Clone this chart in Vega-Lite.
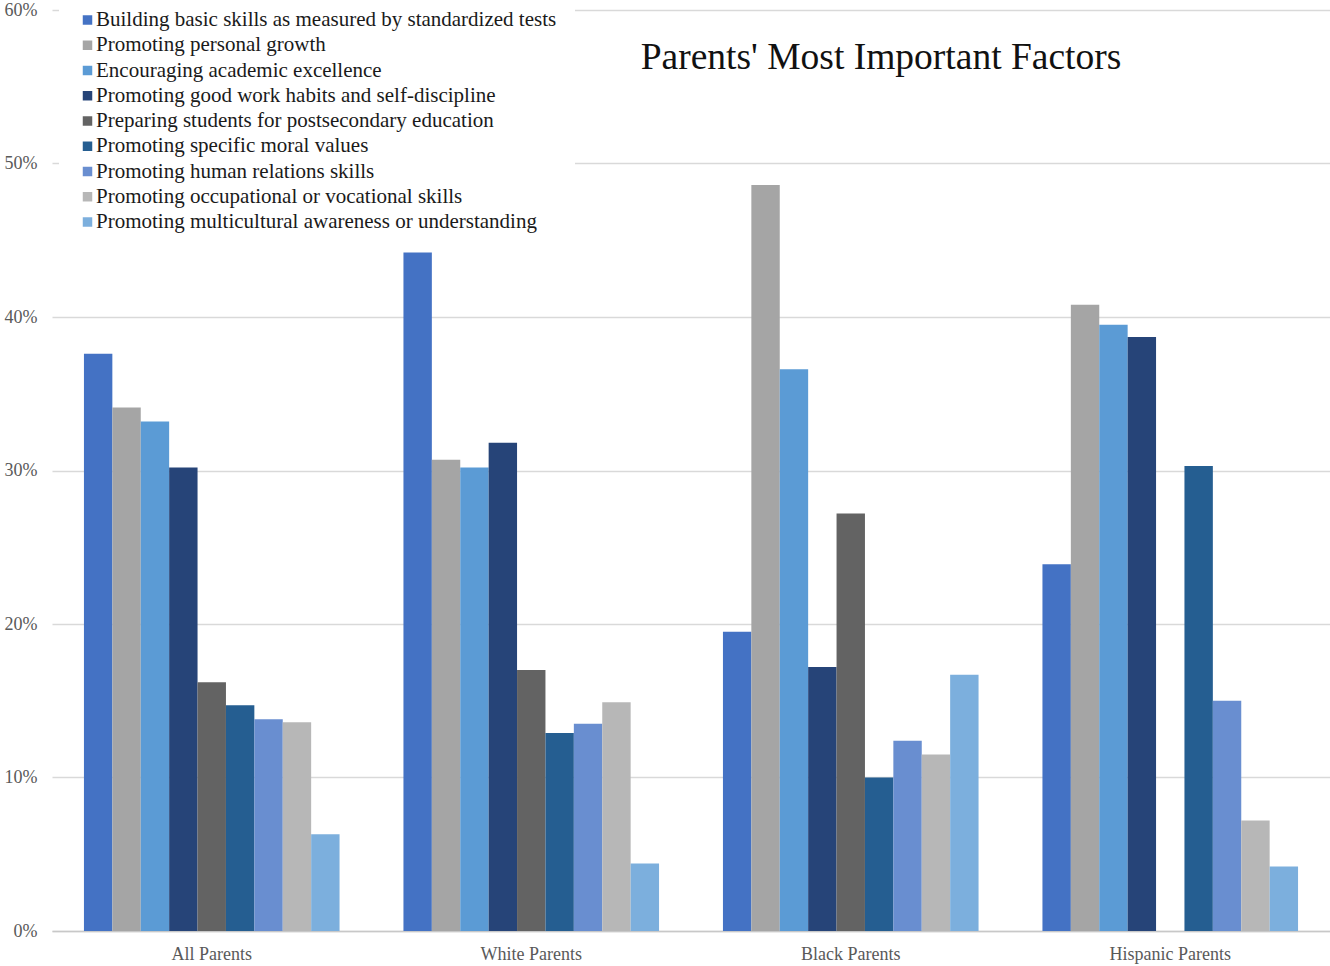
{
  "$schema": "https://vega.github.io/schema/vega-lite/v6.json",
  "autosize": {"type": "none"},
  "padding": {"left": 52, "top": 10, "right": 0, "bottom": 35},
  "width": 1278,
  "height": 921,
  "background": "white",
  "config": {
    "font": "Liberation Serif",
    "view": {"stroke": null}
  },
  "title": {
    "text": "Parents' Most Important Factors",
    "fontSize": 37.5,
    "fontWeight": "normal",
    "color": "#111111",
    "anchor": "middle",
    "frame": "group",
    "dx": 190,
    "dy": 47,
    "offset": -68,
    "baseline": "alphabetic"
  },
  "data": {
    "values": [
      {"group": "All Parents", "factor": "Building basic skills as measured by standardized tests", "value": 0.376},
      {"group": "All Parents", "factor": "Promoting personal growth", "value": 0.341},
      {"group": "All Parents", "factor": "Encouraging academic excellence", "value": 0.332},
      {"group": "All Parents", "factor": "Promoting good work habits and self-discipline", "value": 0.302},
      {"group": "All Parents", "factor": "Preparing students for postsecondary education", "value": 0.162},
      {"group": "All Parents", "factor": "Promoting specific moral values", "value": 0.147},
      {"group": "All Parents", "factor": "Promoting human relations skills", "value": 0.138},
      {"group": "All Parents", "factor": "Promoting occupational or vocational skills", "value": 0.136},
      {"group": "All Parents", "factor": "Promoting multicultural awareness or understanding", "value": 0.063},
      {"group": "White Parents", "factor": "Building basic skills as measured by standardized tests", "value": 0.442},
      {"group": "White Parents", "factor": "Promoting personal growth", "value": 0.307},
      {"group": "White Parents", "factor": "Encouraging academic excellence", "value": 0.302},
      {"group": "White Parents", "factor": "Promoting good work habits and self-discipline", "value": 0.318},
      {"group": "White Parents", "factor": "Preparing students for postsecondary education", "value": 0.170},
      {"group": "White Parents", "factor": "Promoting specific moral values", "value": 0.129},
      {"group": "White Parents", "factor": "Promoting human relations skills", "value": 0.135},
      {"group": "White Parents", "factor": "Promoting occupational or vocational skills", "value": 0.149},
      {"group": "White Parents", "factor": "Promoting multicultural awareness or understanding", "value": 0.044},
      {"group": "Black Parents", "factor": "Building basic skills as measured by standardized tests", "value": 0.195},
      {"group": "Black Parents", "factor": "Promoting personal growth", "value": 0.486},
      {"group": "Black Parents", "factor": "Encouraging academic excellence", "value": 0.366},
      {"group": "Black Parents", "factor": "Promoting good work habits and self-discipline", "value": 0.172},
      {"group": "Black Parents", "factor": "Preparing students for postsecondary education", "value": 0.272},
      {"group": "Black Parents", "factor": "Promoting specific moral values", "value": 0.100},
      {"group": "Black Parents", "factor": "Promoting human relations skills", "value": 0.124},
      {"group": "Black Parents", "factor": "Promoting occupational or vocational skills", "value": 0.115},
      {"group": "Black Parents", "factor": "Promoting multicultural awareness or understanding", "value": 0.167},
      {"group": "Hispanic Parents", "factor": "Building basic skills as measured by standardized tests", "value": 0.239},
      {"group": "Hispanic Parents", "factor": "Promoting personal growth", "value": 0.408},
      {"group": "Hispanic Parents", "factor": "Encouraging academic excellence", "value": 0.395},
      {"group": "Hispanic Parents", "factor": "Promoting good work habits and self-discipline", "value": 0.387},
      {"group": "Hispanic Parents", "factor": "Promoting specific moral values", "value": 0.303},
      {"group": "Hispanic Parents", "factor": "Promoting human relations skills", "value": 0.150},
      {"group": "Hispanic Parents", "factor": "Promoting occupational or vocational skills", "value": 0.072},
      {"group": "Hispanic Parents", "factor": "Promoting multicultural awareness or understanding", "value": 0.042}
    ]
  },
  "mark": {"type": "bar"},
  "encoding": {
    "x": {
      "field": "group",
      "type": "nominal",
      "sort": ["All Parents", "White Parents", "Black Parents", "Hispanic Parents"],
      "scale": {"paddingInner": 0.2, "paddingOuter": 0.1},
      "axis": {
        "title": null,
        "labelAngle": 0,
        "labelFontSize": 18,
        "labelColor": "#595959",
        "labelPadding": 14,
        "ticks": false,
        "domain": true,
        "domainColor": "#c8c8c8",
        "domainWidth": 1.5
      }
    },
    "xOffset": {
      "field": "factor",
      "type": "nominal",
      "scale": {
        "paddingInner": 0,
        "paddingOuter": 0,
        "domain": [
          "Building basic skills as measured by standardized tests",
          "Promoting personal growth",
          "Encouraging academic excellence",
          "Promoting good work habits and self-discipline",
          "Preparing students for postsecondary education",
          "Promoting specific moral values",
          "Promoting human relations skills",
          "Promoting occupational or vocational skills",
          "Promoting multicultural awareness or understanding"
        ]
      }
    },
    "y": {
      "field": "value",
      "type": "quantitative",
      "scale": {"domain": [0, 0.6], "nice": false},
      "axis": {
        "title": null,
        "format": ".0%",
        "values": [0, 0.1, 0.2, 0.3, 0.4, 0.5, 0.6],
        "domain": false,
        "ticks": false,
        "labelFontSize": 18,
        "labelColor": "#595959",
        "labelPadding": 15,
        "gridColor": "#d9d9d9",
        "gridWidth": 1.5
      }
    },
    "color": {
      "field": "factor",
      "type": "nominal",
      "scale": {
        "domain": [
          "Building basic skills as measured by standardized tests",
          "Promoting personal growth",
          "Encouraging academic excellence",
          "Promoting good work habits and self-discipline",
          "Preparing students for postsecondary education",
          "Promoting specific moral values",
          "Promoting human relations skills",
          "Promoting occupational or vocational skills",
          "Promoting multicultural awareness or understanding"
        ],
        "range": ["#4472C4", "#A5A5A5", "#5B9BD5", "#264478", "#636363", "#255E91", "#698ED0", "#B7B7B7", "#7CAFDD"]
      },
      "legend": {
        "title": null,
        "orient": "none",
        "legendX": 7,
        "legendY": -18.5,
        "padding": 18,
        "fillColor": "white",
        "strokeColor": null,
        "symbolType": "square",
        "symbolSize": 90,
        "symbolStrokeWidth": 0,
        "symbolOpacity": 1,
        "labelFontSize": 21,
        "labelColor": "#1a1a1a",
        "labelOffset": -2,
        "labelLimit": 700,
        "rowPadding": 3.25
      }
    }
  }
}
